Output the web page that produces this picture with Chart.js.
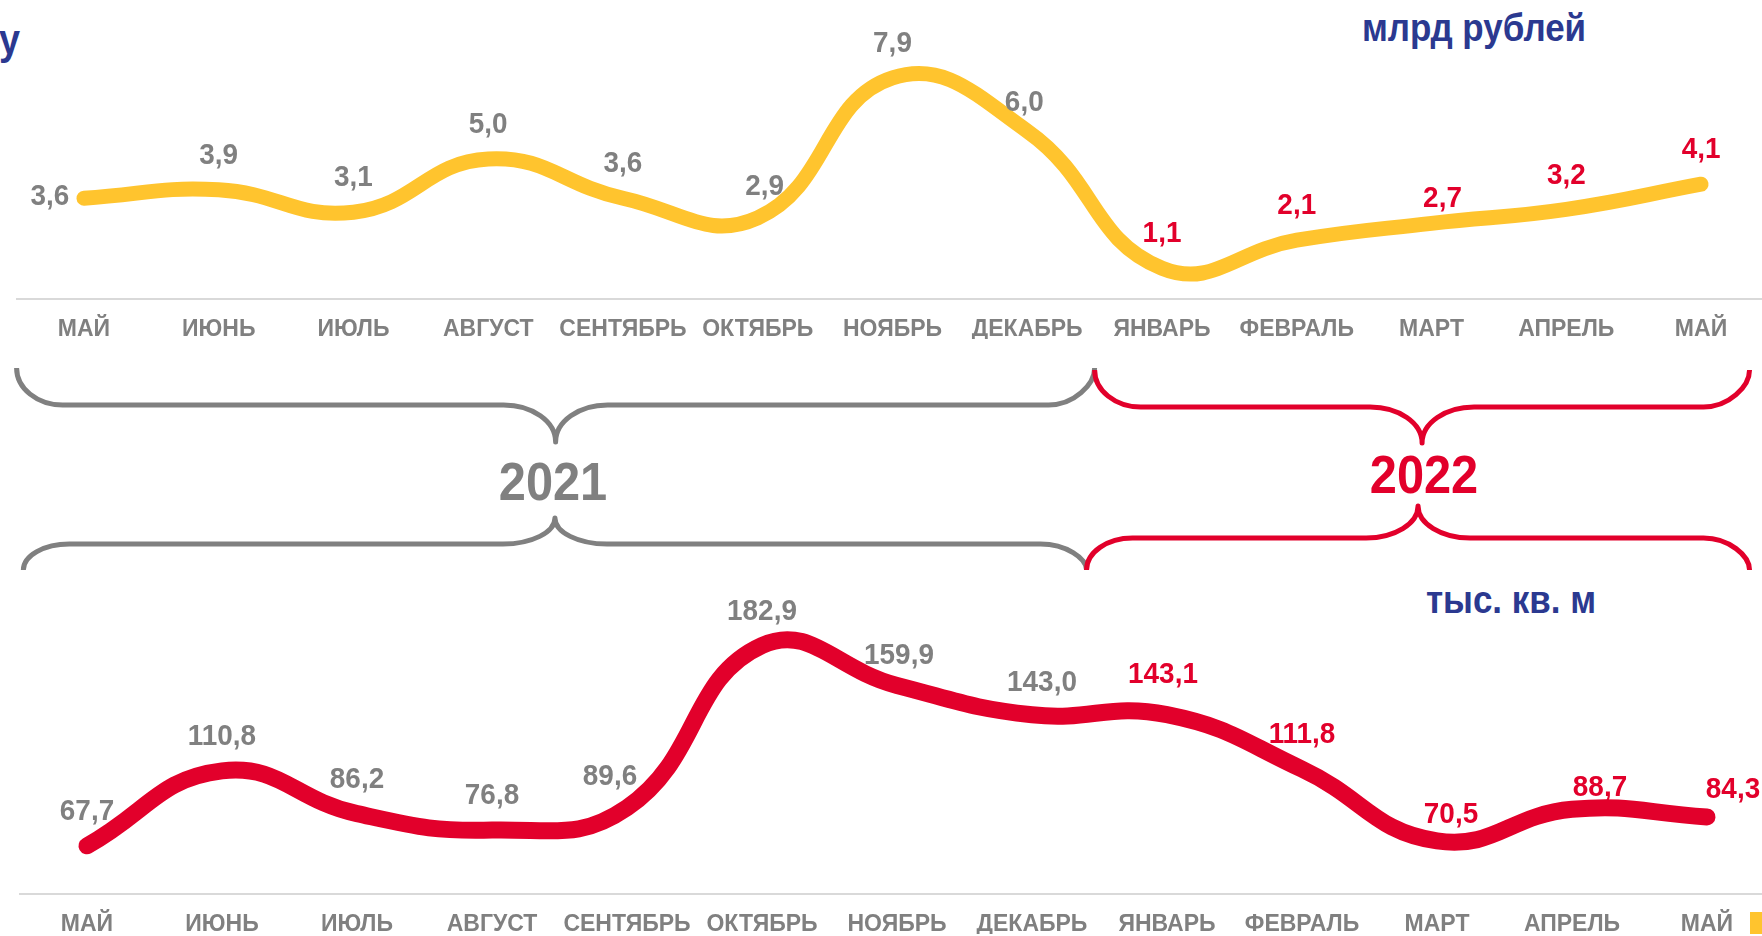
<!DOCTYPE html>
<html>
<head>
<meta charset="utf-8">
<script src="https://cdn.jsdelivr.net/npm/chart.js@4.4.0/dist/chart.umd.min.js"></script>
<style>
    html, body { margin: 0; padding: 0; background: #fff; }
    body { width: 1762px; height: 936px; overflow: hidden; position: relative; }
    .box { position: absolute; left: 0; }
    #top-box { top: 0; width: 1790px; height: 580px; }
    #bottom-box { top: 580px; width: 1800px; height: 356px; }
    .txt { position: absolute; font-family: "Liberation Sans", Arial, sans-serif; font-weight: bold; line-height: 1; white-space: nowrap; }
    .unit { color: #2b3990; font-size: 38px; transform: translateX(-50%) scaleX(0.92); }
    .year { font-size: 53px; transform: translateX(-50%) scaleX(0.92); }
</style>
</head>
<body>
<div class="txt" style="left:-1px; top:19px; font-size:42px; color:#2b3990; transform:scaleX(0.9); transform-origin:left top;">у</div>
<div class="txt unit" style="left:1474px; top:9px;">млрд рублей</div>
<div class="txt unit" style="left:1511px; top:581px;">тыс. кв. м</div>

<div class="box" id="top-box"><canvas id="chart-money"></canvas></div>
<div class="box" id="bottom-box"><canvas id="chart-area"></canvas></div>

<div class="txt year" style="left:553px; top:455px; color:#808080;">2021</div>
<div class="txt year" style="left:1424px; top:448px; color:#e2002b;">2022</div>
<div style="position:absolute; left:1750px; top:912px; width:20px; height:22px; background:#ffc42e;"></div>

<script>
// ---------------------------------- DATA ----------------------------------
const months = ['МАЙ', 'ИЮНЬ', 'ИЮЛЬ', 'АВГУСТ', 'СЕНТЯБРЬ', 'ОКТЯБРЬ', 'НОЯБРЬ', 'ДЕКАБРЬ',
    'ЯНВАРЬ', 'ФЕВРАЛЬ', 'МАРТ', 'АПРЕЛЬ', 'МАЙ'];
const monthYear = [2021, 2021, 2021, 2021, 2021, 2021, 2021, 2021, 2022, 2022, 2022, 2022, 2022];
const money = [3.6, 3.9, 3.1, 5.0, 3.6, 2.9, 7.9, 6.0, 1.1, 2.1, 2.7, 3.2, 4.1];      // млрд рублей
const area = [67.7, 110.8, 86.2, 76.8, 89.6, 182.9, 159.9, 143.0, 143.1, 111.8, 70.5, 88.7, 84.3]; // тыс. кв. м

const GRAY = '#808080';
const RED = '#e2002b';
const YELLOW = '#ffc42e';
const FONT = '"Liberation Sans", Arial, sans-serif';

function fmt(v) {
    return v.toFixed(1).replace('.', ',');
}

// ------------------------------ value labels ------------------------------
const valueLabels = {
    id: 'valueLabels',
    afterDatasetsDraw(chart, args, opts) {
        const ctx = chart.ctx;
        const meta = chart.getDatasetMeta(0);
        const values = chart.data.datasets[0].data;
        meta.data.forEach((pt, i) => {
            const s = opts.shifts[i] || [0, -34];
            ctx.save();
            ctx.font = 'bold 30px ' + FONT;
            ctx.textAlign = 'center';
            ctx.textBaseline = 'middle';
            ctx.fillStyle = monthYear[i] === 2022 ? RED : GRAY;
            ctx.translate(pt.x + s[0], pt.y + s[1]);
            ctx.scale(0.93, 1);
            ctx.fillText(fmt(values[i]), 0, 0);
            ctx.restore();
        });
    }
};

// ------------------------------ year braces -------------------------------
function drawBrace(ctx, x1, x2, yEnd, yMid, yTip, color) {
    const k = 0.5523;
    const r = 46, r2 = 52;
    const xm = (x1 + x2) / 2;
    ctx.beginPath();
    ctx.moveTo(x1, yEnd);
    ctx.bezierCurveTo(x1, yEnd + k * (yMid - yEnd), x1 + r - k * r, yMid, x1 + r, yMid);
    ctx.lineTo(xm - r2, yMid);
    ctx.bezierCurveTo(xm - r2 + k * r2, yMid, xm, yTip - k * (yTip - yMid), xm, yTip);
    ctx.bezierCurveTo(xm, yTip - k * (yTip - yMid), xm + r2 - k * r2, yMid, xm + r2, yMid);
    ctx.lineTo(x2 - r, yMid);
    ctx.bezierCurveTo(x2 - r + k * r, yMid, x2, yMid + k * (yEnd - yMid), x2, yEnd);
    ctx.strokeStyle = color;
    ctx.lineWidth = 5;
    ctx.lineJoin = 'round';
    ctx.stroke();
}

const yearBraces = {
    id: 'yearBraces',
    afterDraw(chart) {
        const x = chart.scales.x;
        const ctx = chart.ctx;
        ctx.save();
        drawBrace(ctx, x.getPixelForValue(-0.5), x.getPixelForValue(7.5), 368, 405, 442, GRAY);
        drawBrace(ctx, x.getPixelForValue(7.5), x.getPixelForValue(12.36), 370, 407, 443, RED);
        drawBrace(ctx, x.getPixelForValue(-0.45), x.getPixelForValue(7.44), 570, 544, 518, GRAY);
        drawBrace(ctx, x.getPixelForValue(7.44), x.getPixelForValue(12.36), 570, 538, 506, RED);
        ctx.restore();
    }
};

function makeOptions(yMin, yMax, pad, shifts) {
    return {
        responsive: true,
        maintainAspectRatio: false,
        animation: false,
        layout: { padding: pad },
        plugins: {
            legend: { display: false },
            tooltip: { enabled: false },
            valueLabels: { shifts: shifts }
        },
        scales: {
            x: {
                offset: true,
                grid: { display: false, drawTicks: false, tickLength: 0 },
                border: { display: true, color: '#d9d9d9', width: 2 },
                ticks: {
                    autoSkip: false,
                    maxRotation: 0,
                    padding: 17,
                    color: GRAY,
                    font: { family: FONT, size: 23, weight: 'bold' }
                },
                afterFit: (scale) => { scale.height = 40; }
            },
            y: { display: false, min: yMin, max: yMax }
        }
    };
}

// ---------------------------- млрд рублей (top) ---------------------------
const topShifts = { 0: [-34, -1], 5: [7, -31], 7: [-3, -28], 10: [11, -25] };
new Chart(document.getElementById('chart-money'), {
    type: 'line',
    data: {
        labels: months,
        datasets: [{
            data: money,
            borderColor: YELLOW,
            borderWidth: 15,
            borderCapStyle: 'round',
            borderJoinStyle: 'round',
            pointRadius: 0,
            tension: 0.45,
            fill: false,
            clip: false
        }]
    },
    options: makeOptions(0, 10.68, { top: 0, bottom: 241, left: 16.6, right: 21.6 }, topShifts),
    plugins: [valueLabels, yearBraces]
});

// ---------------------------- тыс. кв. м (bottom) -------------------------
const bottomShifts = { 4: [-17, -31], 6: [2, -30], 7: [10, -32], 8: [-4, -40], 10: [14, -26], 11: [28, -22], 12: [26, -27] };
new Chart(document.getElementById('chart-area'), {
    type: 'line',
    data: {
        labels: months,
        datasets: [{
            data: area,
            borderColor: RED,
            borderWidth: 17,
            borderCapStyle: 'round',
            borderJoinStyle: 'round',
            pointRadius: 0,
            tension: 0.45,
            fill: false,
            clip: false
        }]
    },
    options: makeOptions(40, 220.5, { top: 0, bottom: 2, left: 19.5, right: 25.5 }, bottomShifts),
    plugins: [valueLabels]
});
</script>
</body>
</html>
